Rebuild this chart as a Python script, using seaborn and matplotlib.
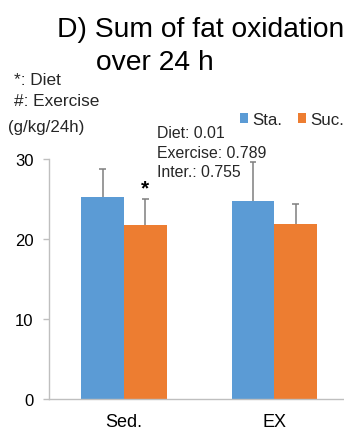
import matplotlib
matplotlib.use("Agg")
import matplotlib.pyplot as plt
import seaborn as sns
import pandas as pd
import numpy as np
from matplotlib.patches import Patch

# Data
groups = ["Sed.", "EX"]
diets = ["Sta.", "Suc."]
sta_mean = [25.3, 24.7]
suc_mean = [21.8, 21.9]
sta_sd = [3.5, 4.9]
suc_sd = [3.2, 2.5]
yticks = [0, 10, 20, 30]
stats_lines = ["Diet: 0.01", "Exercise: 0.789", "Inter.: 0.755"]

df = pd.DataFrame({
    "group": groups * 2,
    "diet": [diets[0]] * 2 + [diets[1]] * 2,
    "value": sta_mean + suc_mean,
    "sd": sta_sd + suc_sd,
})

sns.set_theme(style="white")
plt.rcParams["font.family"] = ["Liberation Sans", "DejaVu Sans"]

W, H = 344, 431
fig = plt.figure(figsize=(W / 100, H / 100), dpi=100)
ax = fig.add_axes([49 / W, 31 / H, (W - 49) / W, 240 / H])

palette = {"Sta.": "#5B9BD5", "Suc.": "#ED7D31"}
sns.barplot(data=df, x="group", y="value", hue="diet", order=groups,
            hue_order=diets, palette=palette, width=0.566, errorbar=None,
            saturation=1, linewidth=0, ax=ax, legend=False)

# Upper-only error bars (stem + cap) from each bar's position
cap_half = 0.022
for container, d in zip(ax.containers, diets):
    sub = df[df["diet"] == d].set_index("group").loc[groups]
    xs = np.array([p.get_x() + p.get_width() / 2 for p in container.patches])
    tops = np.array([p.get_height() for p in container.patches])
    ends = tops + sub["sd"].values
    ax.vlines(xs, tops, ends, colors="#7F7F7F", linewidth=1.1, zorder=3)
    ax.hlines(ends, xs - cap_half, xs + cap_half, colors="#7F7F7F",
              linewidth=1.1, zorder=3)

# Significance marker on the sedentary sucrose bar
sed_suc = ax.containers[1].patches[0]
row = df[(df.group == "Sed.") & (df.diet == "Suc.")].iloc[0]
ax.text(sed_suc.get_x() + sed_suc.get_width() / 2, row["value"] + row["sd"] + 0.2,
        "*", ha="center", va="bottom", fontsize=15, fontweight="bold",
        color="black")

ax.set_xlim(-0.499, 1.464)
ax.set_ylim(0, 30)
ax.set_yticks(yticks)
ax.set_xlabel("")
ax.set_ylabel("")
for s in ["top", "right"]:
    ax.spines[s].set_visible(False)
for s in ["left", "bottom"]:
    ax.spines[s].set_color("#BFBFBF")
    ax.spines[s].set_linewidth(1.0)
ax.tick_params(axis="y", which="major", left=True, length=4, width=1,
               color="#BFBFBF", pad=7, labelsize=12, labelcolor="black")
ax.tick_params(axis="x", length=0, pad=10, labelsize=13, labelcolor="black")

# Title and annotations
fig.text(57 / W, 1 - 37 / H, "D) Sum of fat oxidation", fontsize=20.3,
         color="black", ha="left", va="baseline")
fig.text(96 / W, 1 - 70 / H, "over 24 h", fontsize=20.3, color="black",
         ha="left", va="baseline")
fig.text(14 / W, 1 - 85 / H, "*: Diet", fontsize=12.4, ha="left", va="baseline")
fig.text(14 / W, 1 - 106 / H, "#: Exercise", fontsize=12.4, ha="left", va="baseline")
fig.text(8 / W, 1 - 132 / H, "(g/kg/24h)", fontsize=12.2, ha="left", va="baseline")
for line, yb in zip(stats_lines, [138, 158, 177]):
    fig.text(157 / W, 1 - yb / H, line, fontsize=11.4, ha="left", va="baseline")

# Legend
handles = [Patch(facecolor=palette[d], edgecolor="none") for d in diets]
fig.legend(handles, diets, loc="upper left", bbox_to_anchor=(240 / W, 1 - 113 / H),
           ncol=2, frameon=False, fontsize=12.2, handlelength=0.5,
           handleheight=0.5, handletextpad=0.25, columnspacing=0.9,
           borderaxespad=0, borderpad=0)

fig.savefig("out.png", dpi=100)
